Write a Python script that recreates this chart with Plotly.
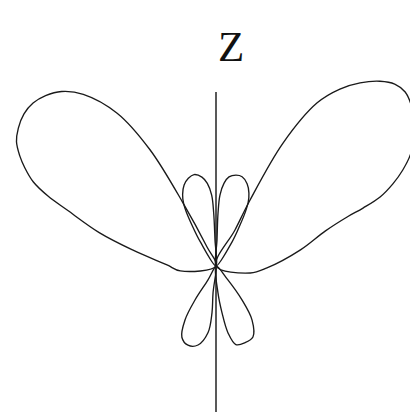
import numpy as np
import plotly.graph_objects as go

# Radiation pattern lobes: angle from the +Z axis in degrees (positive to the right), radius in plot units
big_right_deg = [27, 27.8, 27.3, 28.6, 31.8, 35.0, 38.2, 41.6, 44.5, 47.4, 50.5, 54.0, 57.4, 60.2,
                 62.8, 65.1, 67.2, 68.5, 69.5, 72.2, 79.2, 92.2, 101.6, 108]
big_right_r = [0, 41, 74, 140, 192, 216, 233, 247, 255, 257, 253, 245, 234, 224,
               210, 195, 178, 158, 140, 115, 86, 51, 35, 0]

big_left_deg = [-25, -25.3, -27.6, -29.6, -32.9, -37.7, -41.5, -45.0, -48.3, -51.6, -55.1, -58.1,
                -60.7, -62.8, -65.3, -67.4, -69.4, -74.1, -79.1, -88.8, -97.9, -105]
big_left_r = [0, 21, 71, 134, 182, 217, 233, 241, 245, 245, 241, 235,
              225, 215, 201, 182, 159, 121, 85, 49, 36, 0]

small_up_right_deg = [0, 2.2, 2.2, 3.2, 5.5, 8.3, 12.4, 16.3, 20.7, 24.3, 26.9, 28.7, 30.3, 33.7, 40]
small_up_right_r = [0, 26, 53, 71, 83, 90, 93, 93, 88, 80, 71, 60, 48, 29, 0]

small_up_left_deg = [0, -2.2, -2.5, -3.5, -6, -9, -13.5, -17.5, -21.5, -25, -27.5, -29, -30.5, -33, -40]
small_up_left_r = [0, 26, 53, 71, 83, 90, 94, 92, 87, 79, 70, 60, 47, 29, 0]

small_down_right_deg = [137, 139.4, 142.6, 146.3, 152.5, 159.4, 165.8, 169.8, 172.7, 175.8, 178]
small_down_right_r = [0, 18, 43, 65, 80, 82, 81, 68, 47, 27, 0]

small_down_left_deg = [-147, -150, -148.3, -150.1, -154.4, -160.5, -167.2, -173.2, -175.1, -173.7, -177]
small_down_left_r = [0, 16, 40, 62, 79, 84, 81, 67, 47, 27, 0]

lobes = [
    (big_right_deg, big_right_r),
    (big_left_deg, big_left_r),
    (small_up_right_deg, small_up_right_r),
    (small_up_left_deg, small_up_left_r),
    (small_down_right_deg, small_down_right_r),
    (small_down_left_deg, small_down_left_r),
]

z_axis_top = 174
z_axis_bottom = -170

fig = go.Figure()

# Z axis
fig.add_trace(go.Scatter(
    x=[0, 0], y=[z_axis_top, z_axis_bottom], mode="lines",
    line=dict(color="#222222", width=1.5), hoverinfo="skip", showlegend=False,
))

for deg, r in lobes:
    a = np.radians(np.array(deg, dtype=float))
    rr = np.array(r, dtype=float)
    fig.add_trace(go.Scatter(
        x=rr * np.sin(a), y=rr * np.cos(a), mode="lines",
        line=dict(color="#1a1a1a", width=1.35, shape="spline", smoothing=1.0),
        hoverinfo="skip", showlegend=False,
    ))

fig.add_annotation(
    x=15, y=220, text="Z", showarrow=False,
    font=dict(family="Liberation Serif", size=43, color="#111"),
    xanchor="center", yanchor="middle",
)

fig.update_layout(
    width=410, height=412,
    margin=dict(l=0, r=0, t=0, b=0),
    paper_bgcolor="white", plot_bgcolor="white",
    xaxis=dict(range=[-216, 194], visible=False, fixedrange=True),
    yaxis=dict(range=[-146, 266], visible=False, fixedrange=True),
)

fig.write_html("out.html")
